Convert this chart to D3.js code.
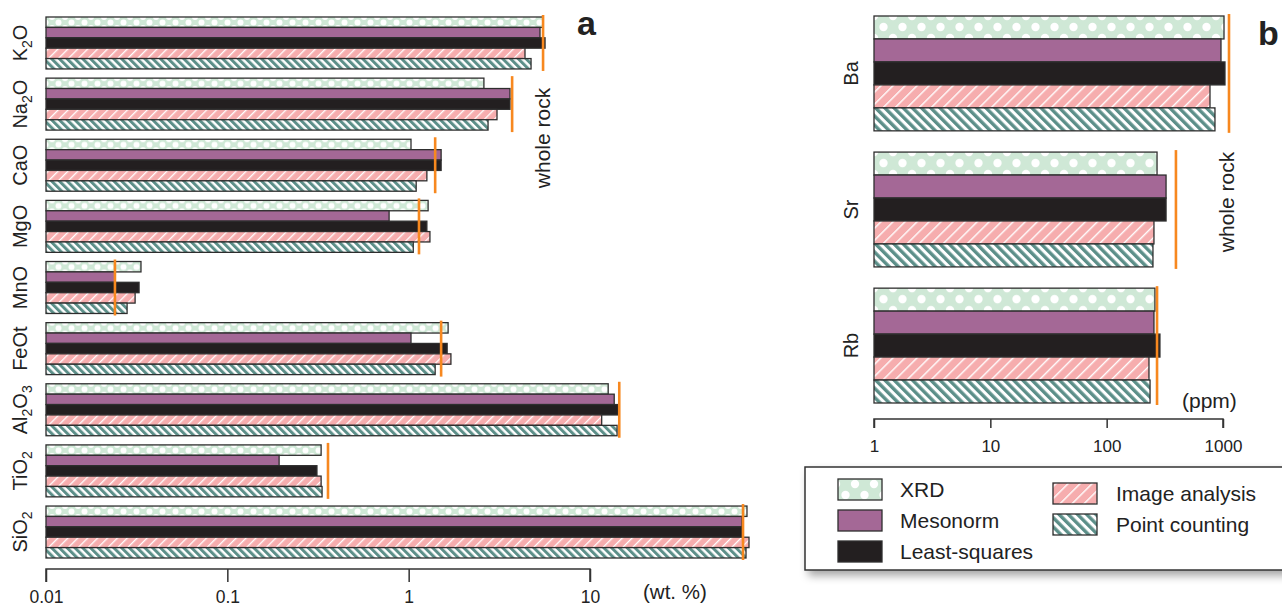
<!DOCTYPE html>
<html>
<head>
<meta charset="utf-8">
<script src="https://cdn.jsdelivr.net/npm/d3@7/dist/d3.min.js"></script>
<style>
  html, body { margin: 0; padding: 0; background: #fff; }
  svg { display: block; font-family: "Liberation Sans", Arial, Helvetica, sans-serif; }
</style>
</head>
<body>
<svg id="chart" width="1282" height="608"></svg>
<script>
// ---------- DATA ----------
const series = ["XRD", "Mesonorm", "Least-squares", "Image analysis", "Point counting"];

// Panel a: major oxides (wt. %)
const categoriesA = ["K2O", "Na2O", "CaO", "MgO", "MnO", "FeOt", "Al2O3", "TiO2", "SiO2"];
const labelPartsA = [
  [["K",""],["2","sub"],["O",""]],
  [["Na",""],["2","sub"],["O",""]],
  [["CaO",""]],
  [["MgO",""]],
  [["MnO",""]],
  [["FeOt",""]],
  [["Al",""],["2","sub"],["O",""],["3","sub"]],
  [["TiO",""],["2","sub"]],
  [["SiO",""],["2","sub"]]
];
const xrdA  = [5.50, 2.60, 1.03, 1.28, 0.0334, 1.65, 12.6, 0.329, 73.4];
const mesoA = [5.30, 3.62, 1.51, 0.78, 0.0240, 1.03, 13.6, 0.193, 68.9];
const lsqA  = [5.65, 3.62, 1.51, 1.26, 0.0326, 1.63, 14.3, 0.312, 68.9];
const imgA  = [4.38, 3.07, 1.26, 1.31, 0.0310, 1.71, 11.6, 0.329, 75.3];
const pcA   = [4.73, 2.74, 1.10, 1.06, 0.0280, 1.40, 14.1, 0.333, 72.5];
const wholeRockA = [5.51, 3.72, 1.40, 1.14, 0.0240, 1.51, 14.5, 0.359, 69.8];
const ticksA = [0.01, 0.1, 1, 10];
const tickLabelsA = ["0.01", "0.1", "1", "10"];

// Panel b: trace elements (ppm)
const categoriesB = ["Ba", "Sr", "Rb"];
const xrdB  = [1020, 271, 260];
const mesoB = [961, 324, 255];
const lsqB  = [1040, 324, 287];
const imgB  = [773, 255, 231];
const pcB   = [853, 250, 236];
const wholeRockB = [1126, 394, 271];
const ticksB = [1, 10, 100, 1000];
const tickLabelsB = ["1", "10", "100", "1000"];

// ---------- STYLE ----------
const C = {
  xrd: "#cfe8d6", meso: "#a46896", lsq: "#231f20", img: "#f6adae",
  pc: "#5c8f89", orange: "#f7881f", stroke: "#2e2e2e", axis: "#333"
};

const svg = d3.select("#chart");
const defs = svg.append("defs");

function dotPattern(id, w, h, r) {
  const p = defs.append("pattern").attr("id", id).attr("patternUnits", "userSpaceOnUse")
    .attr("width", w).attr("height", h);
  p.append("rect").attr("width", w).attr("height", h).attr("fill", C.xrd);
  [[0,0],[w,0],[0,h],[w,h],[w/2,h/2]].forEach(([cx,cy]) =>
    p.append("circle").attr("cx", cx).attr("cy", cy).attr("r", r).attr("fill", "#fff"));
}
function stripePattern(id, w, bg, fg, lw, angle) {
  const p = defs.append("pattern").attr("id", id).attr("patternUnits", "userSpaceOnUse")
    .attr("width", w).attr("height", w).attr("patternTransform", `rotate(${angle})`);
  p.append("rect").attr("width", w).attr("height", w).attr("fill", bg);
  p.append("rect").attr("x", 0).attr("width", lw).attr("height", w).attr("fill", fg);
}
dotPattern("dotsA", 13, 11, 3);
dotPattern("dotsB", 19, 22, 4.2);
stripePattern("imgA", 7, C.img, "#fff", 1.3, 45);
stripePattern("imgB", 8.5, C.img, "#fff", 1.4, 45);
stripePattern("pcA", 5.5, "#fff", C.pc, 3, -45);
stripePattern("pcB", 6.5, "#fff", C.pc, 3.4, -45);

const shadow = defs.append("filter").attr("id", "shadow").attr("x", "-10%").attr("y", "-20%")
  .attr("width", "130%").attr("height", "150%");
shadow.append("feDropShadow").attr("dx", 4).attr("dy", 5).attr("stdDeviation", 4)
  .attr("flood-color", "#000").attr("flood-opacity", 0.35);

function drawPanel(opt) {
  const g = svg.append("g");
  const y = d3.scaleBand().domain(opt.categories).range(opt.yRange).paddingInner(opt.pad).paddingOuter(0);
  const ys = d3.scaleBand().domain(series).range([0, y.bandwidth()]).padding(0);
  const x = d3.scaleLog().domain(opt.domain).range(opt.xRange);
  const fills = [`url(#${opt.dots})`, C.meso, C.lsq, `url(#${opt.img})`, `url(#${opt.pc})`];
  const valuesBySeries = opt.values;

  opt.categories.forEach((cat, i) => {
    const gg = g.append("g").attr("transform", `translate(0,${y(cat)})`);
    series.forEach((s, j) => {
      const v = valuesBySeries[j][i];
      gg.append("rect")
        .attr("x", x(opt.domain[0]))
        .attr("y", ys(s))
        .attr("width", x(v) - x(opt.domain[0]))
        .attr("height", ys.bandwidth())
        .attr("fill", fills[j])
        .attr("stroke", C.stroke).attr("stroke-width", 1.3);
    });
    gg.append("line")
      .attr("x1", x(opt.whole[i])).attr("x2", x(opt.whole[i]))
      .attr("y1", -2).attr("y2", y.bandwidth() + 2)
      .attr("stroke", C.orange).attr("stroke-width", opt.orangeW);
  });

  const axis = d3.axisBottom(x).tickValues(opt.ticks)
    .tickFormat((d, i) => opt.tickLabels[i]).tickSize(opt.tickSize).tickSizeOuter(0).tickPadding(opt.tickPad);
  const ag = g.append("g").attr("transform", `translate(0,${opt.axisY})`).call(axis);
  ag.select(".domain").attr("stroke", C.axis).attr("stroke-width", 1.5)
    .attr("d", `M${opt.xRange[0]},${opt.tickSize}V0H${opt.xRange[1]}V${opt.tickSize}`);
  ag.selectAll(".tick line").attr("stroke", C.axis).attr("stroke-width", 1.5);
  ag.selectAll(".tick text").attr("fill", "#222").attr("font-size", opt.tickFont)
    .attr("font-family", '"Liberation Sans", Arial, sans-serif');
  return { x, y };
}

// ---------- PANEL A ----------
const pa = drawPanel({
  categories: categoriesA, yRange: [17, 558], pad: 0.15,
  domain: [0.01, 10], xRange: [46, 590],
  values: [xrdA, mesoA, lsqA, imgA, pcA], whole: wholeRockA,
  dots: "dotsA", img: "imgA", pc: "pcA", orangeW: 2.6,
  ticks: ticksA, tickLabels: tickLabelsA, axisY: 569, tickSize: 13, tickPad: 9, tickFont: 17.5
});
categoriesA.forEach((cat, i) => {
  const cy = pa.y(cat) + pa.y.bandwidth() / 2;
  const t = svg.append("text").attr("transform", `translate(27,${cy}) rotate(-90)`)
    .attr("text-anchor", "middle").attr("font-size", 20).attr("fill", "#222");
  let prevSub = false;
  labelPartsA[i].forEach(([txt, kind]) => {
    const ts = t.append("tspan").text(txt);
    if (kind === "sub") { ts.attr("font-size", 14).attr("dy", 5); prevSub = true; }
    else { ts.attr("dy", prevSub ? -5 : 0); prevSub = false; }
  });
});
svg.append("text").attr("x", 577).attr("y", 35).attr("font-size", 34).attr("font-weight", "bold")
  .attr("fill", "#222").text("a");
svg.append("text").attr("transform", "translate(550,138) rotate(-90)").attr("text-anchor", "middle")
  .attr("font-size", 21).attr("fill", "#222").text("whole rock");
svg.append("text").attr("x", 643).attr("y", 599).attr("font-size", 20.5).attr("fill", "#222").text("(wt. %)");

// ---------- PANEL B ----------
const pb = drawPanel({
  categories: categoriesB, yRange: [16, 403], pad: 0.156,
  domain: [1, 1000], xRange: [874, 1223],
  values: [xrdB, mesoB, lsqB, imgB, pcB], whole: wholeRockB,
  dots: "dotsB", img: "imgB", pc: "pcB", orangeW: 2.6,
  ticks: ticksB, tickLabels: tickLabelsB, axisY: 419, tickSize: 9, tickPad: 12, tickFont: 17
});
categoriesB.forEach(cat => {
  const cy = pb.y(cat) + pb.y.bandwidth() / 2;
  svg.append("text").attr("transform", `translate(858,${cy}) rotate(-90)`)
    .attr("text-anchor", "middle").attr("font-size", 20).attr("fill", "#222").text(cat);
});
svg.append("text").attr("x", 1258).attr("y", 45).attr("font-size", 34).attr("font-weight", "bold")
  .attr("fill", "#222").text("b");
svg.append("text").attr("transform", "translate(1234,202) rotate(-90)").attr("text-anchor", "middle")
  .attr("font-size", 21).attr("fill", "#222").text("whole rock");
svg.append("text").attr("x", 1182).attr("y", 408).attr("font-size", 21).attr("fill", "#222").text("(ppm)");

// ---------- LEGEND ----------
const lg = svg.append("g");
lg.append("rect").attr("x", 805).attr("y", 467).attr("width", 500).attr("height", 103)
  .attr("fill", "#fff").attr("stroke", "#333").attr("stroke-width", 1.5).attr("filter", "url(#shadow)");
const legendFills = ["url(#dotsB)", C.meso, C.lsq, "url(#imgB)", "url(#pcB)"];
const legendPos = [[838, 479], [838, 510], [838, 541], [1053, 483], [1053, 514]];
series.forEach((s, j) => {
  const [lx, ly] = legendPos[j];
  lg.append("rect").attr("x", lx).attr("y", ly).attr("width", 44).attr("height", 21)
    .attr("fill", legendFills[j]).attr("stroke", C.stroke).attr("stroke-width", 1.3);
  lg.append("text").attr("x", lx + (j < 3 ? 62 : 63)).attr("y", ly + 18).attr("font-size", 21)
    .attr("fill", "#222").text(s);
});
</script>
</body>
</html>
